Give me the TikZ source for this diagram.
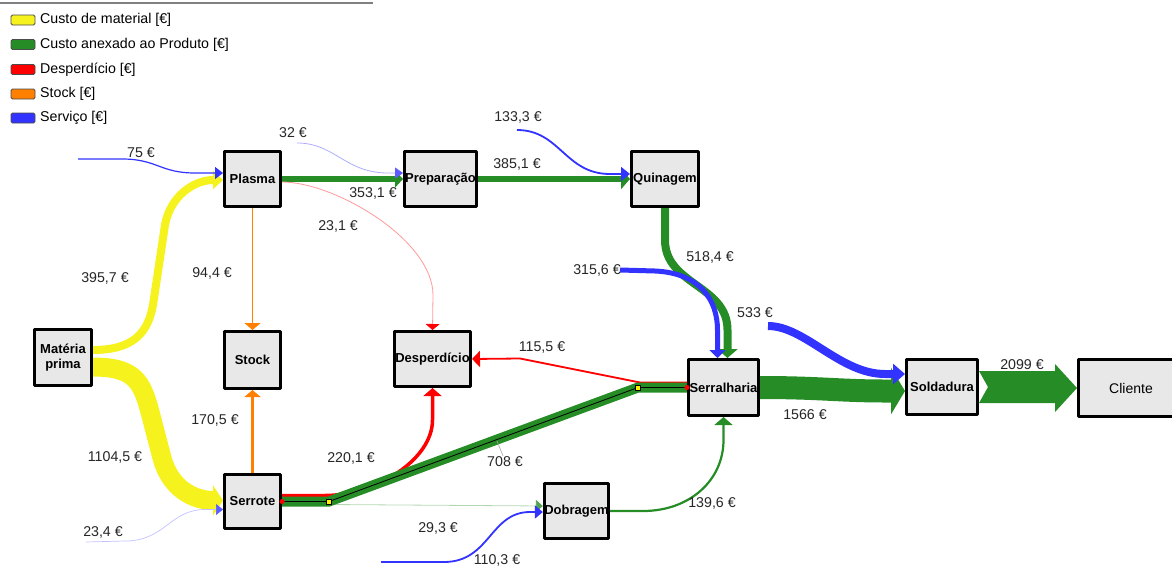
\documentclass[tikz,border=0pt]{standalone}
\usepackage{fontspec}
\setmainfont{Liberation Sans}
\usetikzlibrary{arrows.meta,backgrounds}
\definecolor{yel}{RGB}{245,242,30}
\definecolor{grn}{RGB}{38,140,38}
\definecolor{rd}{RGB}{255,0,0}
\definecolor{org}{RGB}{255,128,0}
\definecolor{blu}{RGB}{51,51,255}
\definecolor{boxgray}{RGB}{232,232,232}
\begin{document}
\begin{tikzpicture}[x=1pt,y=-1pt,line join=round,
  box/.style={draw=black,fill=boxgray,line width=3pt,inner sep=0pt,align=center,
    font=\bfseries\fontsize{13}{14.5}\selectfont},
  val/.style={font=\fontsize{14.2}{16}\selectfont,text=black!85,inner sep=1pt},
  legsw/.style={draw=black!70,line width=0.8pt,rounded corners=1.5pt,minimum width=24pt,minimum height=10pt,inner sep=0pt},
  legtx/.style={anchor=west,font=\fontsize{14.2}{16}\selectfont,inner sep=0pt},
  mk/.style={draw=black,line width=0.5pt,fill=yellow,minimum size=5pt,inner sep=0pt},
  ahead/.style 2 args={-{Triangle[length=#1,width=#2]}}]
\useasboundingbox (0,0) rectangle (1172,565);

% legend
\draw[gray,line width=1.5pt] (0,3) -- (373,3);
\node[legsw,fill=yel] (s1) at (23,20) {};
\node[legsw,fill=grn] (s2) at (23,44.5) {};
\node[legsw,fill=rd] (s3) at (23,69.5) {};
\node[legsw,fill=org] (s4) at (23,94) {};
\node[legsw,fill=blu] (s5) at (23,118) {};
\node[legtx] (t1) at (40,20) {Custo de material [€]};
\node[legtx] (t2) at (40,44.5) {Custo anexado ao Produto [€]};
\node[legtx] (t3) at (40,69.5) {Desperdício [€]};
\node[legtx] (t4) at (40,94) {Stock [€]};
\node[legtx] (t5) at (40,118) {Serviço [€]};

% processes
\node[box,minimum width=57pt,minimum height=56pt] (mat) at (63,357.5) {Matéria\\prima};
\node[box,minimum width=56pt,minimum height=55pt] (pla) at (252.5,179) {Plasma};
\node[box,minimum width=72pt,minimum height=55pt] (pre) at (440.5,179) {Preparação};
\node[box,minimum width=67pt,minimum height=55pt] (qui) at (665,179) {Quinagem};
\node[box,minimum width=56pt,minimum height=57pt] (sto) at (252.5,360) {Stock};
\node[box,minimum width=76pt,minimum height=55pt] (des) at (432.5,359) {Desperdício};
\node[box,minimum width=56pt,minimum height=54pt] (ser) at (252.5,501.5) {Serrote};
\node[box,minimum width=60pt,minimum height=55pt] (dob) at (576.5,511) {Dobragem};
\node[box,minimum width=70pt,minimum height=56pt] (sel) at (723.5,387.5) {Serralharia};
\node[box,minimum width=71pt,minimum height=55pt] (sol) at (942,387) {Soldadura};
\node[box,minimum width=105pt,minimum height=57pt,font=\fontsize{14}{16}\selectfont] (cli) at (1131,388) {Cliente};

\coordinate (in75) at (78,159);
\coordinate (in32) at (297,143);
\coordinate (in133) at (517,130);
\coordinate (in315) at (620,270);
\coordinate (in533) at (768,326);
\coordinate (in23) at (86,542);
\coordinate (in110) at (381,562);
\coordinate (k1) at (329,501.5);
\coordinate (k2) at (638,387.5);

\begin{scope}[on background layer]
% material
\draw[yel,line width=8pt,ahead={10pt}{18pt}] ([yshift=7.5pt]mat.east) .. controls +(40,0) and +(-5,28) .. (153,305) -- (165,225) .. controls +(5,-28) and +(-30,0) .. ([yshift=-1pt]pla.west);
\draw[yel,line width=19pt,ahead={10pt}{30pt}] ([yshift=-9.5pt]mat.east) .. controls +(42,0) and +(-8,-30) .. (150,412) -- (162,458) .. controls +(8,30) and +(-30,0) .. ([yshift=1pt]ser.west);
% plasma
\draw[blu,line width=1.2pt,ahead={8pt}{12pt}] (in75) -- (122,159) .. controls +(35,0) and +(-35,0) .. (195,173) -- ([yshift=6pt]pla.west);
\draw[grn,line width=5.5pt,ahead={8pt}{17pt}] (pla.east) -- (pre.west);
\draw[blu!40,line width=0.8pt,-{Triangle[length=8pt,width=11pt,color=blu!80]}] (in32) .. controls (335,143) and (345,173) .. (388,173) -- ([yshift=6pt]pre.west);
\draw[rd!40,line width=0.8pt,-{Triangle[length=6pt,width=14pt,color=rd]}] ([yshift=-3pt]pla.east) .. controls (335,182) and (433,240) .. (433,295) -- (des.north);
\draw[org,line width=1.5pt,ahead={7pt}{16pt}] (pla.south) -- (sto.north);
% preparacao, quinagem
\draw[grn,line width=6pt,ahead={9pt}{20pt}] (pre.east) -- (qui.west);
\draw[blu,line width=1.8pt,ahead={9pt}{14pt}] (in133) .. controls (560,130) and (565,174) .. (610,174) -- ([yshift=5pt]qui.west);
\draw[grn,line width=8pt,ahead={9pt}{20pt}] (qui.south) -- (665,240) .. controls (665,285) and (727.5,285) .. (727.5,330) -- ([xshift=4pt]sel.north);
\draw[blu,line width=5pt,ahead={8pt}{16pt}] (in315) -- (655,271) .. controls (700,273) and (717.5,300) .. (717.5,330) -- ([xshift=-6pt]sel.north);
% serralharia, soldadura
\draw[grn,line width=23pt,ahead={14pt}{46pt}] (sel.east) .. controls (820,387.5) and (840,391) .. (885,391) -- ([yshift=-4pt]sol.west);
\draw[blu,line width=8pt,ahead={12pt}{20pt}] (in533) .. controls (805,326) and (840,374) .. (885,374) -- ([yshift=13pt]sol.west);
\fill[grn] ([yshift=16pt]sol.east) -- (1055,371) -- (1055,364) -- (cli.west) -- (1055,412) -- (1055,403) -- ([yshift=-16pt]sol.east) -- ([xshift=9pt]sol.east) -- cycle;
\draw[rd,line width=1.8pt,ahead={8pt}{16pt}] ([yshift=5pt]sel.west) -- (640,382.5) -- (520,358.5) -- (des.east);
% serrote
\draw[org,line width=2.5pt,ahead={7pt}{16pt}] (ser.north) -- (sto.south);
\draw[rd,line width=3.5pt,ahead={8pt}{18pt}] ([yshift=6pt]ser.east) -- (325,495.5) .. controls (375,495.5) and (432.5,460) .. (432.5,420) -- (des.south);
\draw[grn!35,line width=0.8pt,-{Triangle[length=7pt,width=12pt,color=grn!80]}] ([yshift=-3pt]ser.east) -- (330,504.5) -- ([yshift=5pt]dob.west);
\draw[grn,line width=10pt] (ser.east) -- (k1) -- (k2) -- (sel.west);
\draw[black,line width=0.8pt] (ser.east) -- (k1) -- (k2) -- (sel.west);
\draw[blu!30,line width=0.7pt,-{Triangle[length=7pt,width=11pt,color=blu!80]}] (in23) -- (125,541) .. controls (165,541) and (170,509.5) .. (205,509.5) -- ([yshift=-8pt]ser.west);
% dobragem
\draw[blu,line width=1.8pt,ahead={8pt}{13pt}] (in110) -- (444,562) .. controls (490,562) and (490,512) .. (530,512) -- ([yshift=-1pt]dob.west);
\draw[grn,line width=2.2pt,ahead={8pt}{18pt}] (dob.east) -- (643,511) .. controls (690,511) and (723.5,480) .. (723.5,440) -- (sel.south);
\end{scope}

\node[mk] (m1) at (k1) {};
\node[mk] (m2) at (k2) {};
\fill[rd] (ser.east) circle (2.5pt);
\fill[rd] (sel.west) circle (2.5pt);

% values
\node[val] (l75) at (141,153) {75 €};
\node[val] (l32) at (293,133) {32 €};
\node[val] (l353) at (373,193) {353,1 €};
\node[val] (l23a) at (338,226) {23,1 €};
\node[val] (l133) at (518,117) {133,3 €};
\node[val] (l385) at (517,164) {385,1 €};
\node[val] (l395) at (105,278) {395,7 €};
\node[val] (l94) at (212,273) {94,4 €};
\node[val] (l518) at (710,257) {518,4 €};
\node[val] (l315) at (597,270) {315,6 €};
\node[val] (l533) at (755,313) {533 €};
\node[val] (l115) at (542,347) {115,5 €};
\node[val] (l2099) at (1022,365) {2099 €};
\node[val] (l1566) at (805,415) {1566 €};
\node[val] (l170) at (215,420) {170,5 €};
\node[val] (l1104) at (115,457) {1104,5 €};
\node[val] (l220) at (351,458) {220,1 €};
\node[val] (l708) at (505,462) {708 €};
\node[val] (l29) at (438,528) {29,3 €};
\node[val] (l139) at (712,503) {139,6 €};
\node[val] (l23b) at (103,532) {23,4 €};
\node[val] (l110) at (497,560) {110,3 €};
\coordinate (ld) at (497,441);
\draw[gray!70,line width=0.6pt] (ld) -- ([xshift=-2pt]l708.north);
\end{tikzpicture}
\end{document}
